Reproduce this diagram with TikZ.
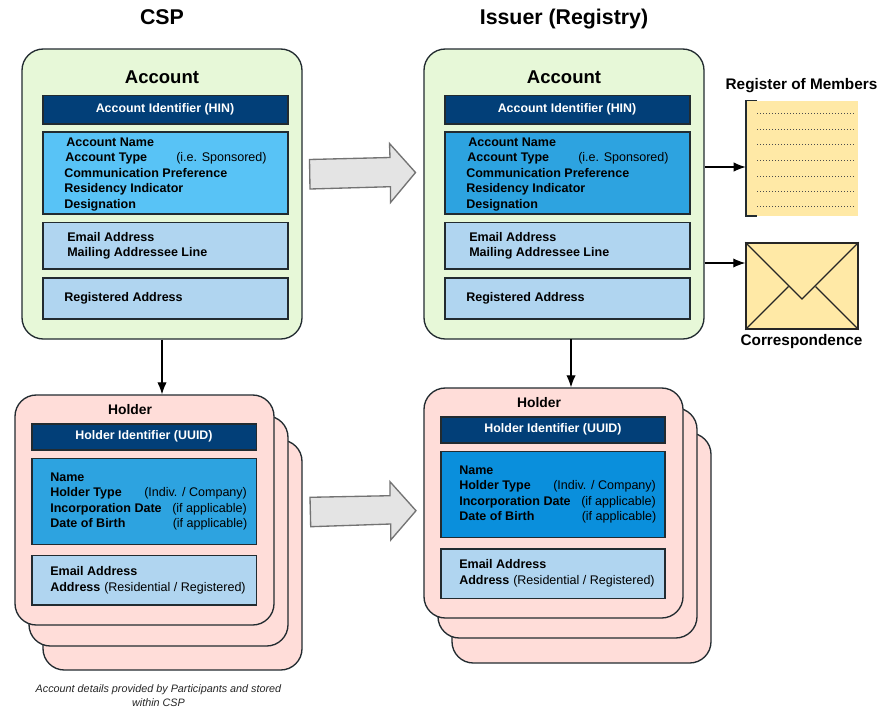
\documentclass[tikz,border=0pt]{standalone}
\usepackage{fontspec}
\setmainfont{Liberation Sans}
\usetikzlibrary{arrows.meta,calc}
\definecolor{cgreen}{HTML}{E7F8D8}
\definecolor{cnavy}{HTML}{023F78}
\definecolor{csky}{HTML}{58C3F6}
\definecolor{cmid}{HTML}{2DA3E0}
\definecolor{cdeep}{HTML}{0A8FDC}
\definecolor{clight}{HTML}{B0D5F0}
\definecolor{cpink}{HTML}{FFDDD9}
\definecolor{cyel}{HTML}{FFE9A6}
\definecolor{cline}{HTML}{222B30}
\definecolor{cgrey}{HTML}{E4E4E4}
\tikzset{
  x=0.75pt,y=-0.75pt,
  panel/.style={draw=cline,line width=1pt,rounded corners=16pt},
  band/.style={draw=cline,line width=0.85pt},
  lbl/.style={anchor=west,inner sep=0pt,text height=6.8pt,text depth=0pt,font=\fontsize{9.4}{11}\selectfont\bfseries,text=black},
  note/.style={anchor=west,inner sep=0pt,text height=6.8pt,text depth=0pt,font=\fontsize{9.4}{11}\selectfont,text=black},
  wlbl/.style={inner sep=0pt,text height=6.8pt,text depth=0pt,font=\fontsize{9.3}{11}\selectfont\bfseries,text=white},
  big/.style={inner sep=0pt,text height=11.5pt,text depth=0pt,font=\fontsize{16}{19}\selectfont\bfseries},
  acct/.style={inner sep=0pt,font=\fontsize{13.9}{16}\selectfont\bfseries},
  side/.style={inner sep=0pt,text height=8.6pt,text depth=0pt,font=\fontsize{11.5}{14}\selectfont\bfseries},
  hold/.style={inner sep=0pt,font=\fontsize{10.4}{12}\selectfont\bfseries},
  conn/.style={draw=black,line width=0.85pt,-{Latex[length=9pt,width=7pt]}},
  flow/.style={draw=black!55,fill=cgrey,line width=1pt},
}
\newcommand{\boxat}[7]{% name, x1,y1,x2,y2, style, fill
  \path[#6,fill=#7] (#2,#3) rectangle (#4,#5);
  \coordinate (#1) at ($(#2,#3)!0.5!(#4,#5)$);
}
\begin{document}
\begin{tikzpicture}
\useasboundingbox (0,0) rectangle (878,707);
\fill[white] (0,0) rectangle (878,707);

\node[big] (tcsp) at (162,16.5) {CSP};
\node[big] (tiss) at (564,16.5) {Issuer (Registry)};

% CSP account
\node[panel,fill=cgreen,minimum width=210pt,minimum height=217.5pt,inner sep=0pt] (acA) at (162,194) {};
\node[acct] (acAt) at (162,77) {Account};
\boxat{aA1}{43}{95.5}{288}{124}{band}{cnavy}
\node[wlbl] (aA1t) at (165,108) {Account Identifier (HIN)};
\boxat{aA2}{43}{132}{288}{214}{band}{csky}
\node[lbl] (a1) at (66,142) {Account Name};
\node[lbl] (a2) at (65,157) {Account Type};
\node[note] (a2n) at (176,157) {(i.e. Sponsored)};
\node[lbl] (a3) at (64,173) {Communication Preference};
\node[lbl] (a4) at (64,188) {Residency Indicator};
\node[lbl] (a5) at (64,204) {Designation};
\boxat{aA3}{43}{222.5}{288}{269}{band}{clight}
\node[lbl] (a6) at (67,237) {Email Address};
\node[lbl] (a7) at (67,252) {Mailing Addressee Line};
\boxat{aA4}{43}{278}{288}{319}{band}{clight}
\node[lbl] (a8) at (64,297) {Registered Address};

% Issuer account
\node[panel,fill=cgreen,minimum width=210pt,minimum height=217.5pt,inner sep=0pt] (acB) at (564,194) {};
\node[acct] (acBt) at (564,77) {Account};
\boxat{bA1}{445}{95.5}{690}{124}{band}{cnavy}
\node[wlbl] (bA1t) at (567,108) {Account Identifier (HIN)};
\boxat{bA2}{445}{132}{690}{214}{band}{cmid}
\node[lbl] (b1) at (468,142) {Account Name};
\node[lbl] (b2) at (467,157) {Account Type};
\node[note] (b2n) at (578,157) {(i.e. Sponsored)};
\node[lbl] (b3) at (466,173) {Communication Preference};
\node[lbl] (b4) at (466,188) {Residency Indicator};
\node[lbl] (b5) at (466,204) {Designation};
\boxat{bA3}{445}{222.5}{690}{269}{band}{clight}
\node[lbl] (b6) at (469,237) {Email Address};
\node[lbl] (b7) at (469,252) {Mailing Addressee Line};
\boxat{bA4}{445}{278}{690}{319}{band}{clight}
\node[lbl] (b8) at (466,297) {Registered Address};

% CSP holder stack
\node[panel,fill=cpink,minimum width=194.25pt,minimum height=172.5pt,inner sep=0pt] (hA3) at (172.5,555) {};
\node[panel,fill=cpink,minimum width=194.25pt,minimum height=172.5pt,inner sep=0pt] (hA2) at (158.5,531) {};
\node[panel,fill=cpink,minimum width=194.25pt,minimum height=172.5pt,inner sep=0pt] (hA1) at (144.5,510) {};
\node[hold] (hAt) at (130,409.5) {Holder};
\boxat{cA1}{32}{424}{256.5}{450}{band}{cnavy}
\node[wlbl] (cA1t) at (144,435) {Holder Identifier (UUID)};
\boxat{cA2}{32}{458.5}{256.5}{544.5}{band}{cmid}
\node[lbl] (c1) at (50,477) {Name};
\node[lbl] (c2) at (50,492) {Holder Type};
\node[note] (c2n) at (144,492) {(Indiv. / Company)};
\node[lbl] (c3) at (50,507.5) {Incorporation Date};
\node[note] (c3n) at (172,507.5) {(if applicable)};
\node[lbl] (c4) at (50,523) {Date of Birth};
\node[note] (c4n) at (172.5,523) {(if applicable)};
\boxat{cA3}{32}{555.5}{256.5}{605}{band}{clight}
\node[lbl] (c5) at (50,571) {Email Address};
\node[lbl] (c6) at (50,587) {Address};
\node[note] (c6n) at (104,587) {(Residential / Registered)};

% Issuer holder stack
\node[panel,fill=cpink,minimum width=194.25pt,minimum height=172.5pt,inner sep=0pt] (hB3) at (581.5,548) {};
\node[panel,fill=cpink,minimum width=194.25pt,minimum height=172.5pt,inner sep=0pt] (hB2) at (567.5,523) {};
\node[panel,fill=cpink,minimum width=194.25pt,minimum height=172.5pt,inner sep=0pt] (hB1) at (553.5,503) {};
\node[hold] (hBt) at (539,402.5) {Holder};
\boxat{dA1}{441}{417}{665}{443}{band}{cnavy}
\node[wlbl] (dA1t) at (553,428) {Holder Identifier (UUID)};
\boxat{dA2}{441}{451.5}{665}{537.5}{band}{cdeep}
\node[lbl] (d1) at (459,470) {Name};
\node[lbl] (d2) at (459,485) {Holder Type};
\node[note] (d2n) at (553,485) {(Indiv. / Company)};
\node[lbl] (d3) at (459,500.5) {Incorporation Date};
\node[note] (d3n) at (581,500.5) {(if applicable)};
\node[lbl] (d4) at (459,516) {Date of Birth};
\node[note] (d4n) at (581.5,516) {(if applicable)};
\boxat{dA3}{441}{549}{665}{598.5}{band}{clight}
\node[lbl] (d5) at (459,564) {Email Address};
\node[lbl] (d6) at (459,580) {Address};
\node[note] (d6n) at (513,580) {(Residential / Registered)};

% Transfer arrows
\draw[flow] (309.5,159.5) -- (390,157.5) -- (389.5,143.5) -- (415.5,172.5) -- (390.5,202.5) -- (390.5,186.7) -- (310,189) -- cycle;
\draw[flow] (310,497.3) -- (390,495.7) -- (390,481.7) -- (416,510.7) -- (390.7,540) -- (390.7,524) -- (310.7,526.7) -- cycle;

% Register of members
\node[side] (regt) at (801.5,84) {Register of Members};
\fill[cyel] (746,100.5) rectangle (858,216);
\node[inner sep=0pt,minimum width=84pt,minimum height=87pt] (reg) at (802,158) {};
\draw[cline,line width=0.8pt] (757,100.5) -- (746,100.5) -- (746,216) -- (757,216);
\foreach \yy in {113.5,129,144.5,160,176,191,206.5}
  \draw[black!70,line width=0.75pt,dash pattern=on 0.75pt off 1.5pt] (757,\yy) -- (854,\yy);

% Envelope
\node[draw=black!85,line width=1.1pt,fill=cyel,inner sep=0pt,minimum width=84pt,minimum height=64.5pt] (env) at (802,286) {};
\draw[black!85,line width=1pt] (env.north west) -- (802,299) -- (env.north east);
\draw[black!85,line width=1pt] (env.south west) -- (788.5,286.5);
\draw[black!85,line width=1pt] (env.south east) -- (815.5,286.5);
\node[side] (envt) at (801.5,340) {Correspondence};

% Connectors
\coordinate (fromB) at (571,339);
\draw[conn] (acA.south) -- (acA.south |- hA1.north);
\draw[conn] (fromB) -- (fromB |- hB1.north);
\draw[conn] (acB.east |- reg.west) ++(0,9) coordinate (rs) -- (rs -| reg.west);
\draw[conn] (acB.east |- env.west) ++(0,-23) coordinate (es) -- (es -| env.west);

\node[inner sep=0pt,align=center,font=\fontsize{8.1}{10}\selectfont\itshape,text=black!85] (foot) at (158.5,695.5) {Account details provided by Participants and stored\\within CSP};
\end{tikzpicture}
\end{document}
